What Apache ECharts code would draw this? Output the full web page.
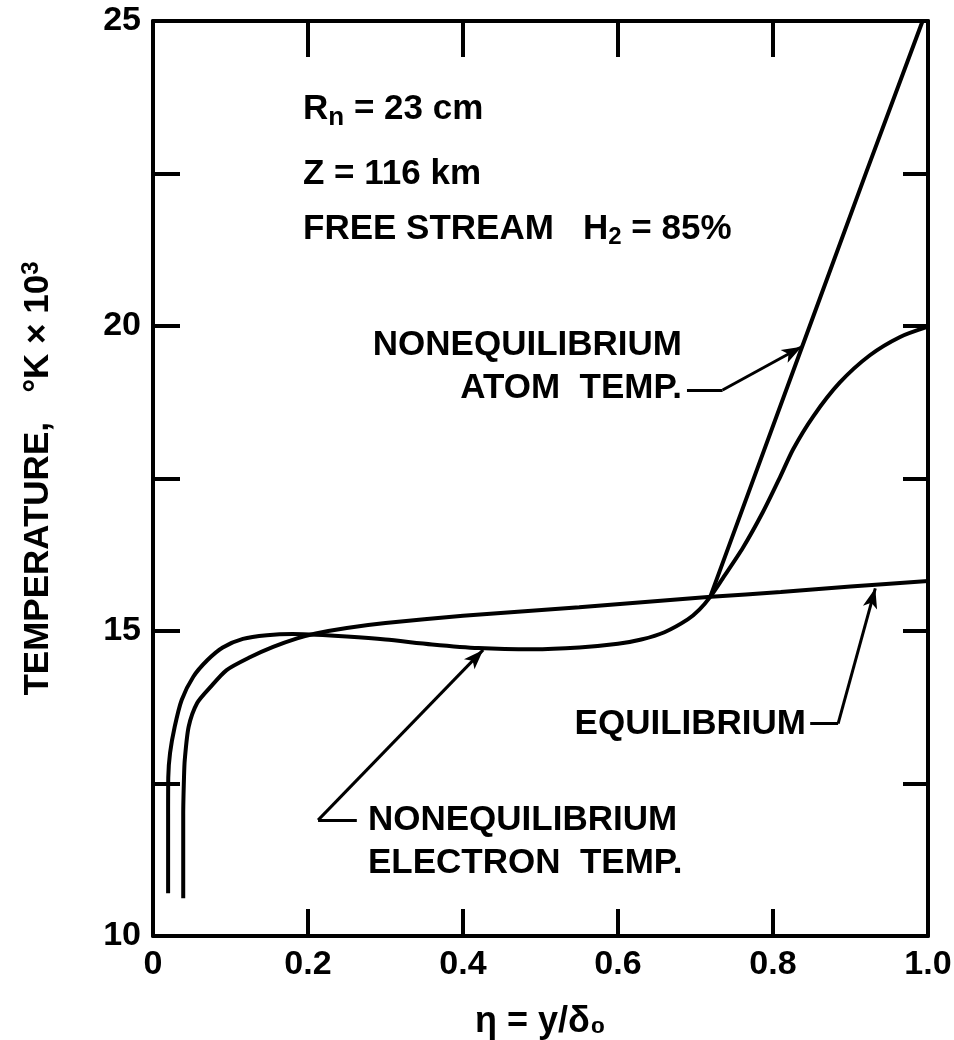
<!DOCTYPE html>
<html>
<head>
<meta charset="utf-8">
<script src="https://cdn.jsdelivr.net/npm/echarts@6/dist/echarts.min.js"></script>
<style>
html,body{margin:0;padding:0;background:#fff;}
#c{width:954px;height:1040px;}
</style>
</head>
<body>
<div id="c"></div>
<script>
// ---- data (η = y/δ0, temperature in °K×10^3) ----
const electronTemp = [
  [0.0195,10.70],[0.0195,12.0],[0.0197,12.6],[0.022,13.0],[0.028,13.43],[0.037,13.87],
  [0.052,14.25],[0.070,14.52],[0.090,14.73],[0.116,14.87],[0.147,14.93],[0.18,14.95],
  [0.21,14.94],[0.25,14.91],[0.30,14.86],[0.36,14.78],[0.42,14.72],[0.49,14.70],
  [0.55,14.73],[0.60,14.79],[0.63,14.86],[0.66,14.98],[0.69,15.19],[0.705,15.35],
  [0.719,15.56],[0.735,15.86],[0.761,16.36],[0.787,16.95],[0.809,17.52],[0.826,17.98],
  [0.852,18.52],[0.886,19.07],[0.925,19.52],[0.964,19.82],[0.998,19.98]
];
const equilibriumTemp = [
  [0.039,10.62],[0.039,12.0],[0.040,12.6],[0.041,12.89],[0.046,13.43],[0.057,13.82],
  [0.074,14.08],[0.095,14.36],[0.125,14.57],[0.155,14.74],[0.186,14.88],[0.21,14.96],
  [0.25,15.05],[0.30,15.13],[0.40,15.25],[0.55,15.39],[0.72,15.56],[0.81,15.64],
  [0.90,15.73],[1.0,15.82]
];
const atomTemp = [
  [0.719,15.56],[0.78,17.67],[0.85,20.09],[0.92,22.51],[0.993,25.0]
];
// leader lines for the labels (data coordinates), last point = arrow tip
const atomLeader = [[0.689,18.95],[0.735,18.95],[0.837,19.66]];
const electronLeader = [[0.263,11.90],[0.213,11.90],[0.426,14.69]];
const equilLeader = [[0.848,13.48],[0.884,13.48],[0.932,15.70]];
const yLabelValues = [10,15,20,25];

const FONT = "'Liberation Sans', Arial, sans-serif";
const chart = echarts.init(document.getElementById('c'), null, {renderer:'canvas'});

function leaderLines(pts){
  const out = [];
  for (let i=0;i<pts.length-1;i++){
    const last = i === pts.length-2;
    out.push([
      {coord: pts[i], symbol:'none'},
      {coord: pts[i+1], symbol: last ? 'arrow' : 'none', symbolSize: last ? [11,20] : 0}
    ]);
  }
  return out;
}

const axisLineStyle = {color:'#000', width:4};
const curveStyle = {color:'#000', width:4};

const option = {
  animation:false,
  backgroundColor:'#fff',
  grid:{left:153, right:26, top:21, bottom:104, containLabel:false, outerBoundsMode:'none'},
  xAxis:[
    {type:'value', min:0, max:1, interval:0.2, position:'bottom',
     axisLine:{show:true, onZero:false, lineStyle:axisLineStyle},
     axisTick:{show:true, inside:true, length:27, lineStyle:{color:'#000', width:4}},
     splitLine:{show:false},
     axisLabel:{show:true, margin:12, color:'#000', fontFamily:FONT, fontWeight:'bold', fontSize:34,
       formatter:v => (Math.abs(v)<1e-9 ? '0' : v.toFixed(1))},
     name:'η = y/δ₀', nameLocation:'middle', nameGap:68,
     nameTextStyle:{color:'#000', fontFamily:FONT, fontWeight:'bold', fontSize:36}
    },
    {type:'value', min:0, max:1, interval:0.2, position:'top',
     axisLine:{show:true, onZero:false, lineStyle:axisLineStyle},
     axisTick:{show:true, inside:true, length:36, lineStyle:{color:'#000', width:4}},
     splitLine:{show:false}, axisLabel:{show:false}}
  ],
  yAxis:[
    {type:'value', min:10, max:25, interval:2.5, position:'left',
     axisLine:{show:true, onZero:false, lineStyle:axisLineStyle},
     axisTick:{show:true, inside:true, length:27, lineStyle:{color:'#000', width:4}},
     splitLine:{show:false},
     axisLabel:{show:true, margin:12, color:'#000', fontFamily:FONT, fontWeight:'bold', fontSize:34,
       formatter:v => (yLabelValues.indexOf(v)>=0 ? String(v) : '')},
     name:'{t|TEMPERATURE,   °K × 10}{s|3}', nameLocation:'middle', nameGap:96, nameRotate:90,
     nameTextStyle:{color:'#000', fontFamily:FONT, fontWeight:'bold', fontSize:35,
       rich:{t:{color:'#000', fontFamily:FONT, fontWeight:'bold', fontSize:35},
             s:{color:'#000', fontFamily:FONT, fontWeight:'bold', fontSize:24, padding:[0,0,14,0]}}}
    },
    {type:'value', min:10, max:25, interval:2.5, position:'right',
     axisLine:{show:true, onZero:false, lineStyle:axisLineStyle},
     axisTick:{show:true, inside:true, length:25, lineStyle:{color:'#000', width:4}},
     splitLine:{show:false}, axisLabel:{show:false}}
  ],
  series:[
    {name:'Nonequilibrium electron temp.', type:'line', data:electronTemp, smooth:0.25,
     showSymbol:false, lineStyle:curveStyle, xAxisIndex:0, yAxisIndex:0},
    {name:'Equilibrium', type:'line', data:equilibriumTemp, smooth:0.25,
     showSymbol:false, lineStyle:curveStyle, xAxisIndex:0, yAxisIndex:0},
    {name:'Nonequilibrium atom temp.', type:'line', data:atomTemp, smooth:false,
     showSymbol:false, lineStyle:curveStyle, xAxisIndex:0, yAxisIndex:0},
    {name:'leaders', type:'line', data:[], xAxisIndex:1, yAxisIndex:1,
     markLine:{silent:true, animation:false, label:{show:false},
       lineStyle:{color:'#000', width:3, type:'solid'},
       emphasis:{disabled:true},
       data:[].concat(leaderLines(atomLeader), leaderLines(electronLeader), leaderLines(equilLeader))}}
  ],
  graphic:[
    {type:'text', left:303, top:92, style:{text:'{a|R}{s|n}{a| = 23 cm}',
      rich:{a:{fontFamily:FONT, fontWeight:'bold', fontSize:35, fill:'#000'},
            s:{fontFamily:FONT, fontWeight:'bold', fontSize:26, fill:'#000', padding:[16,0,0,0]}}}},
    {type:'text', left:303, top:157, style:{text:'Z = 116 km', fontFamily:FONT, fontWeight:'bold', fontSize:35, fill:'#000'}},
    {type:'text', left:303, top:212, style:{text:'{a|FREE STREAM   H}{s|2}{a| = 85%}',
      rich:{a:{fontFamily:FONT, fontWeight:'bold', fontSize:35, fill:'#000'},
            s:{fontFamily:FONT, fontWeight:'bold', fontSize:24, fill:'#000', padding:[16,0,0,0]}}}},
    {type:'text', right:954-682, top:328, style:{text:'NONEQUILIBRIUM', textAlign:'right', fontFamily:FONT, fontWeight:'bold', fontSize:35, fill:'#000'}},
    {type:'text', right:954-682, top:371, style:{text:'ATOM  TEMP.', textAlign:'right', fontFamily:FONT, fontWeight:'bold', fontSize:35, fill:'#000'}},
    {type:'text', right:954-806, top:707, style:{text:'EQUILIBRIUM', textAlign:'right', fontFamily:FONT, fontWeight:'bold', fontSize:35, fill:'#000'}},
    {type:'text', left:368, top:803, style:{text:'NONEQUILIBRIUM', fontFamily:FONT, fontWeight:'bold', fontSize:35, fill:'#000'}},
    {type:'text', left:368, top:846, style:{text:'ELECTRON  TEMP.', fontFamily:FONT, fontWeight:'bold', fontSize:35, fill:'#000'}}
  ]
};
chart.setOption(option);
</script>
</body>
</html>
